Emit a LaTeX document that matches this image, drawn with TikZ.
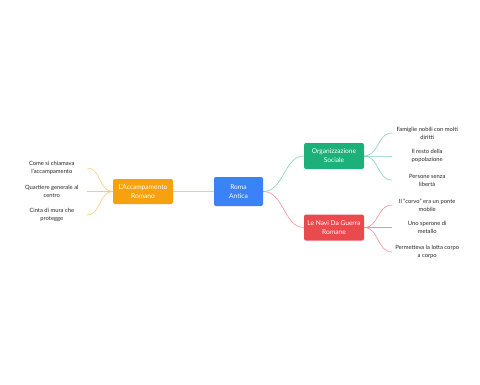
\documentclass[tikz,border=0pt]{standalone}
\usepackage{fontspec}
\setmainfont{Lato}
\usepackage{xcolor}
\usetikzlibrary{positioning}

\definecolor{romablue}{HTML}{3B82F6}
\definecolor{orggreen}{HTML}{1DB07A}
\definecolor{navired}{HTML}{EA4A4E}
\definecolor{accorange}{HTML}{F7A10F}

\begin{document}
\begin{tikzpicture}[
    x=1pt, y=-1pt,
    topic/.style={minimum width=60pt, minimum height=26pt, rounded corners=2pt, inner sep=1pt, text=white, align=center, font=\fontsize{6.6}{9.2}\selectfont},
    leaf/.style={minimum width=70pt, inner sep=1pt, align=center, font=\fontsize{5.8}{8}\selectfont, text=black!85},
    link/.style={line width=0.6pt},
]
\useasboundingbox (0,0) rectangle (480,384);

% --- CENTRE ---
\node[topic, fill=romablue, minimum width=49pt, minimum height=29pt] (roma) at (238.5,191.5) {Roma\\Antica};

% --- MAIN TOPICS ---
\node[topic, fill=orggreen] (org) at (334,156) {Organizzazione\\Sociale};
\node[topic, fill=navired] (navi) at (334,227.5) {Le Navi Da Guerra\\Romane};
\node[topic, fill=accorange, minimum height=25pt] (accamp) at (143,191.5) {L'Accampamento\\Romano};

\draw[link, color=orggreen!55] (roma.east) .. controls (284,191.5) and (284,156) .. (org.west);
\draw[link, color=navired!60] (roma.east) .. controls (284,191.5) and (284,227.5) .. (navi.west);
\draw[link, color=accorange!55] (accamp.east) -- (roma.west);

% --- LEAVES ---
\foreach \name/\ypos/\txt in {
    fam/133/{Famiglie nobili con molti\\diritti},
    pop/156/{Il resto della\\popolazione},
    lib/180/{Persone senza\\libert\`a}} {
    \node[leaf, anchor=west] (\name) at (392,\ypos) {\txt};
    \draw[link, color=orggreen!55] (org.east) .. controls (379,156) and (377,\ypos) .. (\name.west);
}
\foreach \name/\ypos/\txt in {
    corvo/205/{Il ``corvo'' era un ponte\\mobile},
    sper/227.5/{Uno sperone di\\metallo},
    lotta/252/{Permetteva la lotta corpo\\a corpo}} {
    \node[leaf, anchor=west] (\name) at (392,\ypos) {\txt};
    \draw[link, color=navired!60] (navi.east) .. controls (379,227.5) and (377,\ypos) .. (\name.west);
}
\foreach \name/\ypos/\txt in {
    nome/168/{Come si chiamava\\l'accampamento},
    quart/191.5/{Quartiere generale al\\centro},
    cinta/215/{Cinta di mura che\\protegge}} {
    \node[leaf, anchor=east] (\name) at (87,\ypos) {\txt};
    \draw[link, color=accorange!55] (accamp.west) .. controls (99,191.5) and (101,\ypos) .. (\name.east);
}

\end{tikzpicture}
\end{document}
